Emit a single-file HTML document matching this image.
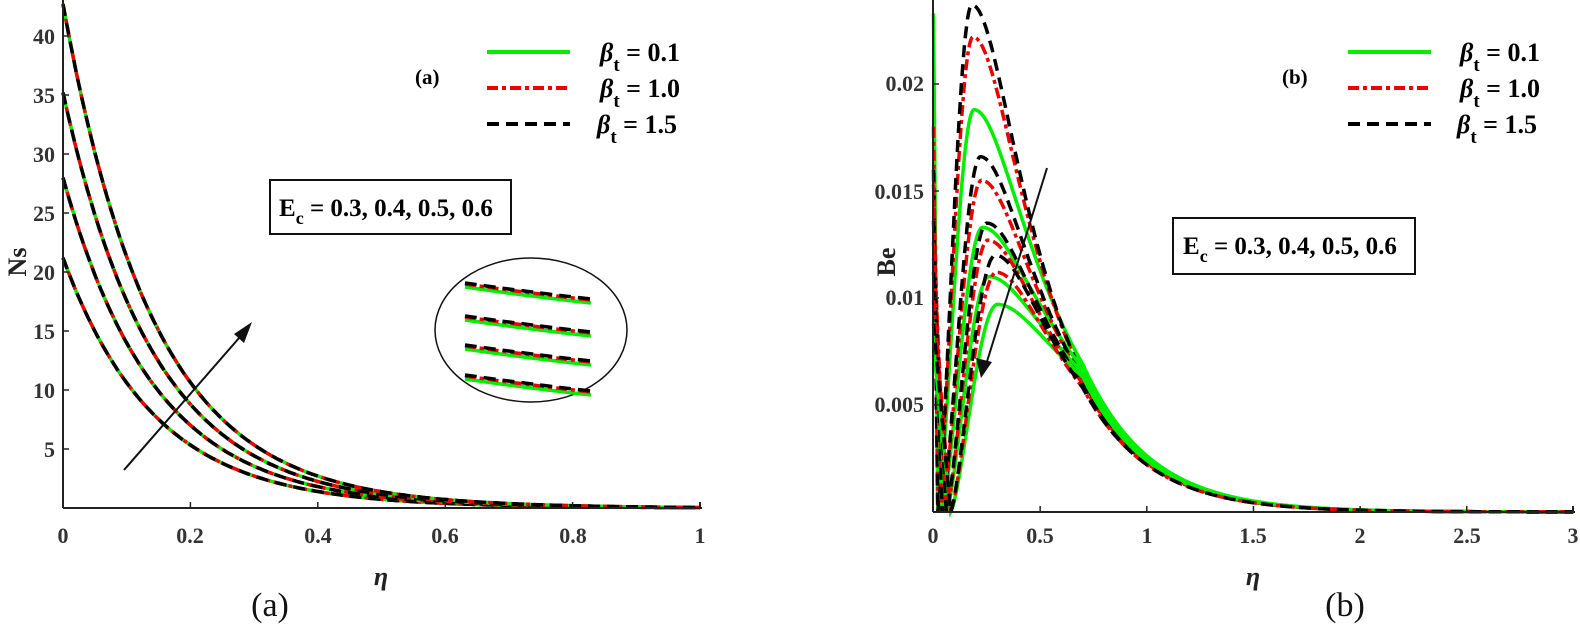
<!DOCTYPE html>
<html><head><meta charset="utf-8"><style>
body{margin:0;background:#fff;}
svg{display:block;font-family:"Liberation Serif",serif;font-weight:bold;}
</style></head><body>
<svg id="s" width="1580" height="624" viewBox="0 0 1580 624" xmlns="http://www.w3.org/2000/svg">
<g id="curves"></g>
<g stroke="#222" stroke-width="2" fill="none">
<line x1="63" y1="0" x2="63" y2="508"/>
<line x1="63" y1="508" x2="702" y2="508"/>
<line x1="700" y1="508" x2="700" y2="502"/>
<line x1="1573" y1="512" x2="1573" y2="506"/>
<line x1="933" y1="0" x2="933" y2="512"/>
<line x1="933" y1="512" x2="1575" y2="512"/>
</g>
<g id="ticks" stroke="#222" stroke-width="1.5"></g>
<g font-size="22" fill="#333" text-anchor="end">
<text x="55" y="44">40</text><text x="55" y="103">35</text><text x="55" y="162">30</text><text x="55" y="221">25</text><text x="55" y="280">20</text><text x="55" y="339">15</text><text x="55" y="398">10</text><text x="55" y="457">5</text>
<text x="924" y="91">0.02</text><text x="924" y="199">0.015</text><text x="924" y="305">0.01</text><text x="924" y="412">0.005</text>
</g>
<g font-size="22" fill="#333" text-anchor="middle">
<text x="63" y="543">0</text><text x="190" y="543">0.2</text><text x="318" y="543">0.4</text><text x="445" y="543">0.6</text><text x="573" y="543">0.8</text><text x="700" y="543">1</text>
<text x="933" y="543">0</text><text x="1040" y="543">0.5</text><text x="1147" y="543">1</text><text x="1253" y="543">1.5</text><text x="1360" y="543">2</text><text x="1467" y="543">2.5</text><text x="1573" y="543">3</text>
</g>
<text x="381" y="585" font-size="26" font-style="italic" text-anchor="middle" fill="#222">η</text>
<text x="1253" y="585" font-size="26" font-style="italic" text-anchor="middle" fill="#222">η</text>
<text transform="translate(26,262) rotate(-90)" font-size="26" text-anchor="middle" fill="#222">Ns</text>
<text transform="translate(895,262) rotate(-90)" font-size="26" text-anchor="middle" fill="#222">Be</text>
<text x="270" y="616" font-size="34" font-weight="normal" text-anchor="middle" fill="#111">(a)</text>
<text x="1345" y="616" font-size="34" font-weight="normal" text-anchor="middle" fill="#111">(b)</text>
<g id="leg"></g>
<text x="415" y="84" font-size="21">(a)</text>
<text x="1282" y="84" font-size="21">(b)</text>
<rect x="270" y="180" width="241" height="54" fill="#fff" stroke="#111" stroke-width="2"/>
<text x="279" y="216" font-size="25">E<tspan font-size="18" dy="8">c</tspan><tspan dy="-8"> = 0.3, 0.4, 0.5, 0.6</tspan></text>
<rect x="1173" y="218" width="242" height="56" fill="#fff" stroke="#111" stroke-width="2"/>
<text x="1183" y="254" font-size="25">E<tspan font-size="18" dy="8">c</tspan><tspan dy="-8"> = 0.3, 0.4, 0.5, 0.6</tspan></text>
<ellipse cx="531" cy="330" rx="96" ry="72" fill="#fff" stroke="#111" stroke-width="1.5"/>
<g id="zoomc"></g>
<line x1="124" y1="470" x2="246" y2="330" stroke="#111" stroke-width="2"/>
<polygon points="252,322 234,334 244,343" fill="#111"/>
<line x1="1047" y1="168" x2="985" y2="368" stroke="#111" stroke-width="2"/>
<polygon points="981,378 976,358 992,362" fill="#111"/>
</svg>
<script>
const NS="http://www.w3.org/2000/svg";
function el(p,t,a){const e=document.createElementNS(NS,t);for(const k in a)e.setAttribute(k,a[k]);p.appendChild(e);return e;}
const styles=[{c:"#00ee00",d:""},{c:"#ee0000",d:"11 4 4 4"},{c:"#000",d:"12 7"}];
const cg=document.getElementById("curves");
const lx=x=>63+637*x, ly=v=>508-v*59/5;
const A=[21,27.8,35,42.5];
for(const a of A){for(let s=0;s<3;s++){let d="";for(let i=0;i<=200;i++){const x=i/200;const v=a*Math.exp(-7*x)+0.2*(1-x);d+=(i?"L":"M")+lx(x).toFixed(1)+","+ly(v).toFixed(1);}
el(cg,"path",{d:d,fill:"none",stroke:styles[s].c,"stroke-width":3.5,"stroke-dasharray":styles[s].d});}}
const rx=x=>933.5+213.3*x, ry=v=>512-v*107/0.005;
const sets=[[0.0188,0.0222,0.0237,0.19],[0.0133,0.0155,0.0166,0.23],[0.0110,0.0127,0.0135,0.26],[0.0097,0.0112,0.0120,0.30]];
const starts=[0.0233,0.018,0.016];
const H=(dx)=>Math.sqrt(1+(dx/0.15)**2)-1;
const T=x=>Math.exp(-0.495*H(x-0.18));
const XC=0.7;
sets.forEach((st,k)=>{for(let s=0;s<3;s++){const P=st[s],xp=st[3]-0.005*s;const x0=0.02+0.02*k;const v0=starts[s]*(1-0.15*k)*(s==0&&k>0?0.6:1);
const target=(s==0?0.0069:0.0064)-0.0002*k;
const b=Math.log(P/target)/H(XC-xp);
let d="";for(let i=0;i<=600;i++){const x=i/200;let v;
if(x<x0)v=v0*(1-x/x0);else if(x<xp){const t=(x-x0)/(xp-x0);v=P*Math.sin(t*Math.PI/2)**1.4;}
else if(x<XC){v=P*Math.exp(-b*H(x-xp));}
else v=target*T(x)/T(XC);
d+=(i?"L":"M")+rx(x).toFixed(1)+","+ry(v).toFixed(1);}
el(cg,"path",{d:d,fill:"none",stroke:styles[s].c,"stroke-width":3.5,"stroke-dasharray":styles[s].d});}});
const tg=document.getElementById("ticks");
for(let v=5;v<=40;v+=5)el(tg,"line",{x1:63,x2:69,y1:ly(v),y2:ly(v)});
for(let x=0.2;x<1;x+=0.2)el(tg,"line",{x1:lx(x),x2:lx(x),y1:508,y2:502});
for(const v of [0.005,0.01,0.015,0.02])el(tg,"line",{x1:933,x2:939,y1:ry(v),y2:ry(v)});
for(let x=0.5;x<3;x+=0.5)el(tg,"line",{x1:rx(x),x2:rx(x),y1:512,y2:506});
const lg=document.getElementById("leg");
[[487,600],[1348,1460]].forEach(([x1,tx])=>{[0.1,"1.0",1.5].forEach((lab,i)=>{const y=52+36*i;
el(lg,"line",{x1:x1,x2:x1+83,y1:y,y2:y,stroke:styles[i].c,"stroke-width":4,"stroke-dasharray":styles[i].d});
const t=el(lg,"text",{x:tx-(i==2?3:0),y:y+9,"font-size":26});t.innerHTML='<tspan font-style="italic">β</tspan><tspan font-size="19" dy="10">t</tspan><tspan dy="-10"> = '+lab+'</tspan>';});});
const zg=document.getElementById("zoomc");
[283,316,345,375].forEach(y=>{for(let s=0;s<3;s++){const off=s==0?4:(s==1?1:0);
el(zg,"path",{d:`M465,${y+off} Q520,${y+off+8} 591,${y+off+16}`,fill:"none",stroke:styles[s].c,"stroke-width":3.5,"stroke-dasharray":styles[s].d});}});
</script>
</body></html>
